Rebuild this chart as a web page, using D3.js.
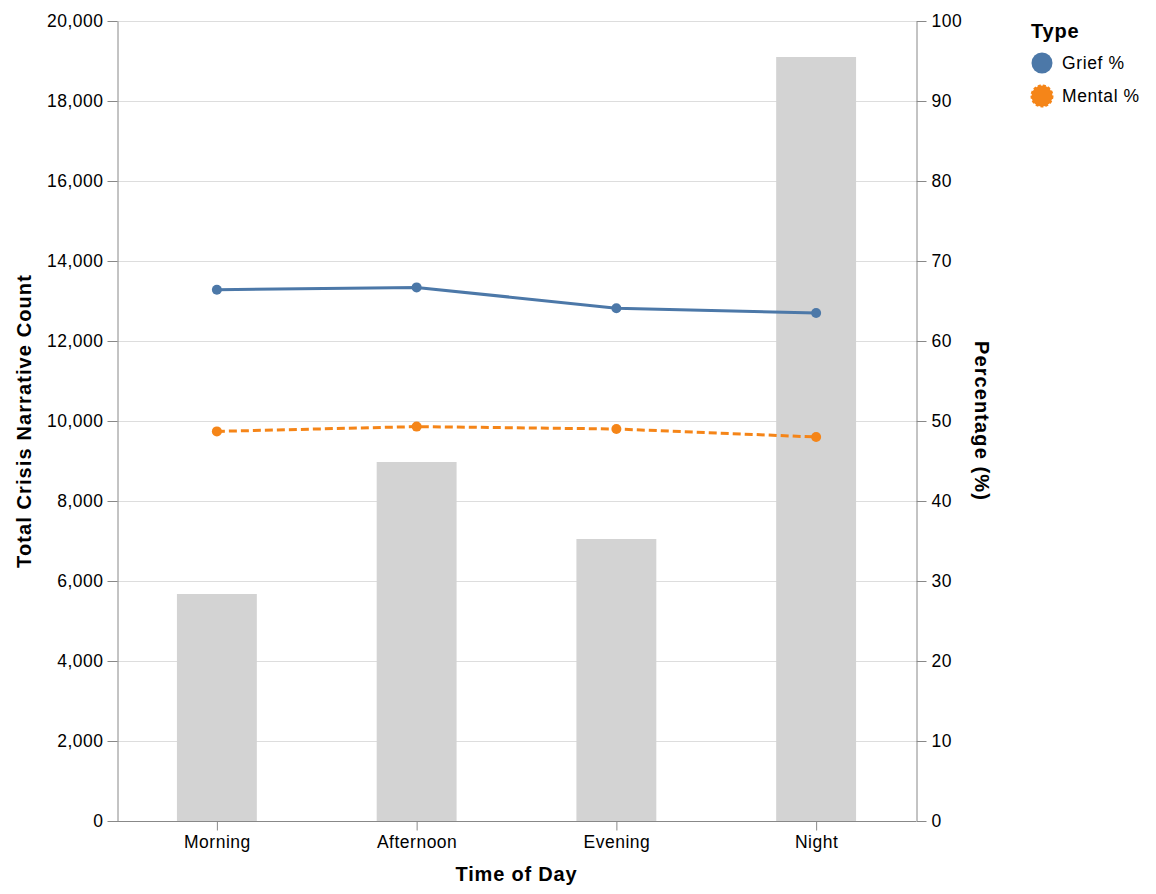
<!DOCTYPE html>
<html>
<head>
<meta charset="utf-8">
<script src="https://cdn.jsdelivr.net/npm/d3@7"></script>
<style>
  body { margin: 0; background: #fff; }
  text { font-family: "Liberation Sans", Arial, Helvetica, sans-serif; }
</style>
</head>
<body>
<svg id="chart" width="1156" height="894"></svg>
<script>
const categories = ["Morning", "Afternoon", "Evening", "Night"];
const counts = [5675, 8975, 7050, 19100];
const griefPct = [66.4, 66.7, 64.1, 63.5];
const mentalPct = [48.7, 49.3, 49.0, 48.0];
const leftTicks = [0, 2000, 4000, 6000, 8000, 10000, 12000, 14000, 16000, 18000, 20000];
const rightTicks = [0, 10, 20, 30, 40, 50, 60, 70, 80, 90, 100];
const seriesNames = ["Grief %", "Mental %"];
const seriesColors = ["#4c78a8", "#f58518"];

const svg = d3.select("#chart");
const m = { left: 117, top: 21, right: 916, bottom: 821 };

const x = d3.scaleBand().domain(categories).range([m.left, m.right]).paddingInner(0.6).paddingOuter(0.3);
const xp = d3.scalePoint().domain(categories).range([m.left, m.right]).padding(0.5);
const yL = d3.scaleLinear().domain([0, 20000]).range([m.bottom, m.top]);
const yR = d3.scaleLinear().domain([0, 100]).range([m.bottom, m.top]);

// grid
svg.append("g").selectAll("line").data(leftTicks).join("line")
  .attr("x1", m.left).attr("x2", m.right)
  .attr("y1", d => yL(d) + 0.5).attr("y2", d => yL(d) + 0.5)
  .attr("stroke", "#ddd").attr("stroke-width", 1);

// bars
svg.append("g").selectAll("rect").data(categories).join("rect")
  .attr("x", d => x(d)).attr("width", x.bandwidth())
  .attr("y", (d, i) => yL(counts[i])).attr("height", (d, i) => m.bottom - yL(counts[i]))
  .attr("fill", "#d3d3d3");

// axes
function styleAxis(g) {
  g.selectAll(".domain").attr("stroke", "#888");
  g.selectAll(".tick line").attr("stroke", "#888");
  g.selectAll(".tick text").attr("font-size", 17.5).attr("fill", "#000")
    .attr("letter-spacing", 0.5)
    .attr("font-family", '"Liberation Sans", Arial, sans-serif');
}
svg.append("g").attr("transform", `translate(${m.left + 0.5},0)`)
  .call(d3.axisLeft(yL).tickValues(leftTicks).tickFormat(d3.format(",")).tickSize(10).tickSizeOuter(0).tickPadding(4))
  .call(styleAxis);
svg.append("g").attr("transform", `translate(${m.right + 0.5},0)`)
  .call(d3.axisRight(yR).tickValues(rightTicks).tickSize(10).tickSizeOuter(0).tickPadding(5))
  .call(styleAxis);
svg.append("g").attr("transform", `translate(0,${m.bottom + 0.5})`)
  .call(d3.axisBottom(xp).tickSize(9).tickSizeOuter(0).tickPadding(5))
  .call(styleAxis)
  .call(g => g.select(".domain").attr("d", `M${m.left},0H${m.right}`));

// axis titles
svg.append("text").attr("x", (m.left + m.right) / 2).attr("y", 881)
  .attr("text-anchor", "middle").attr("font-size", 20).attr("letter-spacing", 0.8)
  .attr("font-weight", "bold").text("Time of Day");
svg.append("text").attr("transform", `translate(31,${(m.top + m.bottom) / 2}) rotate(-90)`)
  .attr("text-anchor", "middle").attr("font-size", 20).attr("letter-spacing", 1.1)
  .attr("font-weight", "bold").text("Total Crisis Narrative Count");
svg.append("text").attr("transform", `translate(975,${(m.top + m.bottom) / 2}) rotate(90)`)
  .attr("text-anchor", "middle").attr("font-size", 20).attr("letter-spacing", 1.1)
  .attr("font-weight", "bold").text("Percentage (%)");

// lines
const series = [griefPct, mentalPct];
const line = d3.line().x((d, i) => xp(categories[i])).y(d => yR(d));
series.forEach((s, k) => {
  svg.append("path").datum(s).attr("d", line)
    .attr("fill", "none").attr("stroke", seriesColors[k]).attr("stroke-width", 3)
    .attr("stroke-dasharray", k === 1 ? "8,4" : null);
  svg.append("g").selectAll("circle").data(s).join("circle")
    .attr("cx", (d, i) => xp(categories[i])).attr("cy", d => yR(d)).attr("r", 5)
    .attr("fill", seriesColors[k]);
});

// legend
const lg = svg.append("g");
lg.append("text").attr("x", 1031).attr("y", 38).attr("font-size", 20).attr("letter-spacing", 0.8)
  .attr("font-weight", "bold").text("Type");
seriesNames.forEach((n, k) => {
  const cy = 63 + k * 33;
  lg.append("circle").attr("cx", 1042).attr("cy", cy).attr("r", 10.5).attr("fill", seriesColors[k])
    .attr("stroke", k === 1 ? seriesColors[k] : "none").attr("stroke-width", k === 1 ? 2 : 0)
    .attr("stroke-dasharray", k === 1 ? "3,2" : null);
  lg.append("text").attr("x", 1062).attr("y", cy + 6).attr("font-size", 17.5).attr("letter-spacing", 0.6).text(n);
});
</script>
</body>
</html>
